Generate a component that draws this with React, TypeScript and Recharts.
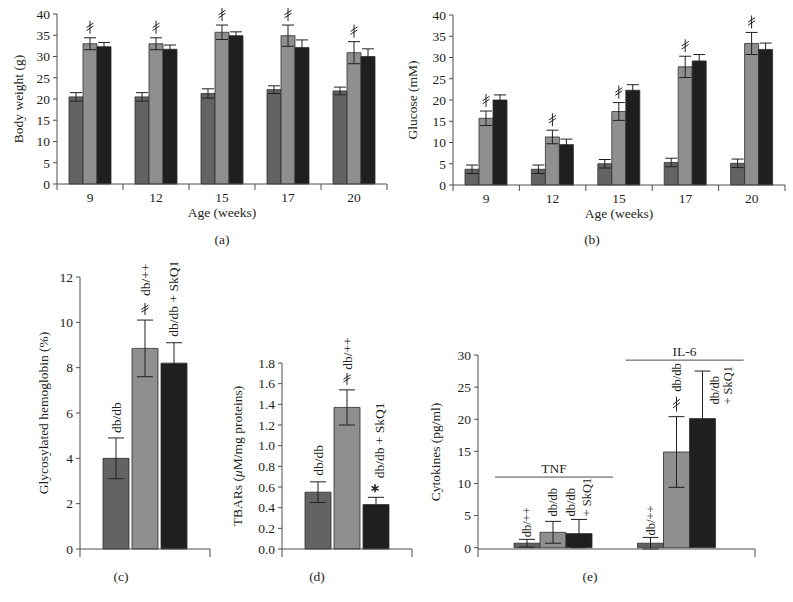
import React from 'react';
import { BarChart, Bar, XAxis, YAxis, ErrorBar, LabelList } from 'recharts';

// ---- data ----
const ages = ['9', '12', '15', '17', '20'];
const weightTicks = [0, 5, 10, 15, 20, 25, 30, 35, 40];
const glucoseTicks = [0, 5, 10, 15, 20, 25, 30, 35, 40];
const hbTicks = [0, 2, 4, 6, 8, 10, 12];
const tbarsTicks = [0, 0.2, 0.4, 0.6, 0.8, 1.0, 1.2, 1.4, 1.6, 1.8];
const cytoTicks = [0, 5, 10, 15, 20, 25, 30];

const weightDark = [20.5, 20.5, 21.3, 22.2, 21.9];
const weightDarkErr = [1.0, 1.0, 1.1, 0.9, 0.9];
const weightGray = [33.0, 33.0, 35.7, 34.9, 30.9];
const weightGrayErr = [1.4, 1.4, 1.7, 2.5, 2.6];
const weightBlack = [32.3, 31.7, 34.9, 32.1, 30.0];
const weightBlackErr = [1.0, 1.0, 0.9, 1.8, 1.8];
const weightMarked = [true, true, true, true, true];

const glucoseDark = [3.7, 3.7, 5.0, 5.3, 5.1];
const glucoseDarkErr = [1.0, 1.0, 1.0, 1.0, 1.0];
const glucoseGray = [15.7, 11.3, 17.3, 27.8, 33.3];
const glucoseGrayErr = [1.7, 1.6, 2.1, 2.5, 2.6];
const glucoseBlack = [20.0, 9.5, 22.3, 29.2, 31.9];
const glucoseBlackErr = [1.2, 1.3, 1.3, 1.5, 1.5];
const glucoseMarked = [true, true, true, true, true];

const hbValues = [4.0, 8.85, 8.2];
const hbErr = [0.9, 1.25, 0.9];
const hbLabels = ['db/db', 'db/++', 'db/db + SkQ1'];

const tbarsValues = [0.55, 1.37, 0.43];
const tbarsErr = [0.1, 0.17, 0.07];
const tbarsLabels = ['db/db', 'db/++', 'db/db + SkQ1'];

const cytokines = ['TNF', 'IL-6'];
const cytoDark = [0.7, 0.7];
const cytoDarkErr = [0.6, 0.9];
const cytoGray = [2.4, 14.9];
const cytoGrayErr = [1.7, 5.5];
const cytoBlack = [2.2, 20.1];
const cytoBlackErr = [2.2, 7.4];
const cytoGrayMarked = [false, true];

const weightRows = ages.map((age, i) => ({
  age,
  dark: weightDark[i], darkErr: weightDarkErr[i],
  gray: weightGray[i], grayErr: weightGrayErr[i],
  black: weightBlack[i], blackErr: weightBlackErr[i],
}));
const glucoseRows = ages.map((age, i) => ({
  age,
  dark: glucoseDark[i], darkErr: glucoseDarkErr[i],
  gray: glucoseGray[i], grayErr: glucoseGrayErr[i],
  black: glucoseBlack[i], blackErr: glucoseBlackErr[i],
}));
const hbRows = [{
  name: 'HbA1c',
  dark: hbValues[0], darkErr: hbErr[0],
  gray: hbValues[1], grayErr: hbErr[1],
  black: hbValues[2], blackErr: hbErr[2],
}];
const tbarsRows = [{
  name: 'TBARs',
  dark: tbarsValues[0], darkErr: tbarsErr[0],
  gray: tbarsValues[1], grayErr: tbarsErr[1],
  black: tbarsValues[2], blackErr: tbarsErr[2],
}];
const cytoRows = cytokines.map((name, i) => ({
  name,
  dark: cytoDark[i], darkErr: cytoDarkErr[i],
  gray: cytoGray[i], grayErr: cytoGrayErr[i],
  black: cytoBlack[i], blackErr: cytoBlackErr[i],
}));

// ---- style ----
const FONT = "'Liberation Serif', 'DejaVu Serif', serif";
const INK = '#231f20';
const AXIS = '#4d4d4d';
const DARK = '#636363';
const GRAY = '#8f8f8f';
const BLACK = '#1f1f1f';
const OUTLINE = '#2e2e2e';
const tickStyle = { fontSize: 13.5, fill: INK, fontFamily: FONT };

// bar geometry from a LabelList entry
function geom(p: any, errs: number[]) {
  const vb = p.viewBox && typeof p.viewBox.width === 'number' ? p.viewBox : p;
  const x = Number(vb.x), y = Number(vb.y), w = Number(vb.width), h = Number(vb.height);
  const i = p.index ?? 0;
  const scale = h / Number(p.value);
  return { i, cx: x + w / 2, top: y, base: y + h, errTop: y - errs[i] * scale, scale };
}

function VText({ x, y, node, size = 13.5 }: any) {
  return (
    <text transform={`translate(${x},${y}) rotate(-90)`} dy="0.35em" fontFamily={FONT} fontSize={size} fill={INK}>
      {node}
    </text>
  );
}

function hashMark(cx: number, bottom: number, len = 13) {
  return (
    <g stroke={INK} strokeWidth={1} fill="none">
      <line x1={cx} y1={bottom} x2={cx} y2={bottom - len} />
      <line x1={cx - 3.5} y1={bottom - len * 0.25} x2={cx + 3.5} y2={bottom - len * 0.6} />
      <line x1={cx - 3.5} y1={bottom - len * 0.48} x2={cx + 3.5} y2={bottom - len * 0.83} />
    </g>
  );
}

function star(cx: number, cy: number) {
  return (
    <g stroke={INK} strokeWidth={1.6}>
      <line x1={cx} y1={cy - 4} x2={cx} y2={cy + 4} />
      <line x1={cx - 3.5} y1={cy - 2} x2={cx + 3.5} y2={cy + 2} />
      <line x1={cx - 3.5} y1={cy + 2} x2={cx + 3.5} y2={cy - 2} />
    </g>
  );
}

function Title({ tx, ty, node, vertical }: any) {
  if (vertical) {
    return (
      <text transform={`translate(${tx},${ty}) rotate(-90)`} textAnchor="middle" dy="0.35em"
        fontFamily={FONT} fontSize={13.5} fill={INK}>{node}</text>
    );
  }
  return <text x={tx} y={ty} textAnchor="middle" fontFamily={FONT} fontSize={13.5} fill={INK}>{node}</text>;
}

function AgeTick(props: any) {
  const { x, payload, index, band, axisY, count } = props;
  return (
    <g>
      <line x1={x - band / 2} y1={axisY} x2={x - band / 2} y2={axisY + 6} stroke={AXIS} />
      {index === count - 1 && <line x1={x + band / 2} y1={axisY} x2={x + band / 2} y2={axisY + 6} stroke={AXIS} />}
      <text x={x} y={axisY + 18} textAnchor="middle" fontFamily={FONT} fontSize={13.5} fill={INK}>{payload.value}</text>
    </g>
  );
}

function EndTicks(props: any) {
  const { index, x0, x1, axisY } = props;
  if (index !== 0) return <g />;
  return (
    <g stroke={AXIS}>
      <line x1={x0} y1={axisY} x2={x0} y2={axisY + 8} />
      <line x1={x1} y1={axisY} x2={x1} y2={axisY + 8} />
    </g>
  );
}

function Caption({ x, y, text }: any) {
  return (
    <div style={{ position: 'absolute', left: x, top: y, transform: 'translate(-50%, -50%)', fontFamily: FONT, fontSize: 13.5, color: INK, whiteSpace: 'nowrap' }}>
      {text}
    </div>
  );
}

function tripleBars(barSize: number, labels?: { dark?: any; gray?: any; black?: any }) {
  const cap = barSize > 20 ? 8 : 6;
  return [
    <Bar key="d" dataKey="dark" barSize={barSize} fill={DARK} stroke={OUTLINE} strokeWidth={0.8} isAnimationActive={false}>
      <ErrorBar dataKey="darkErr" width={cap} stroke={INK} strokeWidth={1} />
      {labels?.dark && <LabelList dataKey="dark" content={labels.dark} />}
    </Bar>,
    <Bar key="g" dataKey="gray" barSize={barSize} fill={GRAY} stroke={OUTLINE} strokeWidth={0.8} isAnimationActive={false}>
      <ErrorBar dataKey="grayErr" width={cap} stroke={INK} strokeWidth={1} />
      {labels?.gray && <LabelList dataKey="gray" content={labels.gray} />}
    </Bar>,
    <Bar key="b" dataKey="black" barSize={barSize} fill={BLACK} stroke={OUTLINE} strokeWidth={0.8} isAnimationActive={false}>
      <ErrorBar dataKey="blackErr" width={cap} stroke={INK} strokeWidth={1} />
      {labels?.black && <LabelList dataKey="black" content={labels.black} />}
    </Bar>,
  ];
}

function PanelWeight() {
  const markLabel = (p: any) => {
    const g = geom(p, weightGrayErr);
    return weightMarked[g.i] ? hashMark(g.cx, g.errTop - 4) : null;
  };
  return (
    <BarChart width={400} height={224} data={weightRows} margin={{ top: 14, right: 13, bottom: 0, left: 0 }} barGap={0}>
      <XAxis dataKey="age" interval={0} height={40} axisLine={{ stroke: AXIS }} tickLine={false}
        tick={<AgeTick band={66} axisY={184} count={ages.length} />}
        label={<Title tx={222} ty={217} node="Age (weeks)" />} />
      <YAxis type="number" domain={[0, 40]} ticks={weightTicks} interval={0} width={57} tickSize={4} tickMargin={3}
        axisLine={{ stroke: AXIS }} tickLine={{ stroke: AXIS }} tick={tickStyle}
        label={<Title tx={18} ty={99} node="Body weight (g)" vertical />} />
      {tripleBars(14, { gray: markLabel })}
    </BarChart>
  );
}

function PanelGlucose() {
  const markLabel = (p: any) => {
    const g = geom(p, glucoseGrayErr);
    return glucoseMarked[g.i] ? hashMark(g.cx, g.errTop - 4) : null;
  };
  return (
    <BarChart width={393} height={225} data={glucoseRows} margin={{ top: 15, right: 8, bottom: 0, left: 0 }} barGap={0}>
      <XAxis dataKey="age" interval={0} height={40} axisLine={{ stroke: AXIS }} tickLine={false}
        tick={<AgeTick band={66.4} axisY={185} count={ages.length} />}
        label={<Title tx={219} ty={218} node="Age (weeks)" />} />
      <YAxis type="number" domain={[0, 40]} ticks={glucoseTicks} interval={0} width={53} tickSize={4} tickMargin={3}
        axisLine={{ stroke: AXIS }} tickLine={{ stroke: AXIS }} tick={tickStyle}
        label={<Title tx={12} ty={100} node="Glucose (mM)" vertical />} />
      {tripleBars(14, { gray: markLabel })}
    </BarChart>
  );
}

function PanelHb() {
  const dark = (p: any) => {
    const g = geom(p, hbErr);
    return <VText x={g.cx} y={g.errTop - 5} node={hbLabels[0]} />;
  };
  const gray = (p: any) => {
    const g = geom(p, hbErr.slice(1));
    return <g>{hashMark(g.cx, g.errTop - 5, 12)}<VText x={g.cx} y={g.errTop - 24} node={hbLabels[1]} /></g>;
  };
  const black = (p: any) => {
    const g = geom(p, hbErr.slice(2));
    return <VText x={g.cx - 1} y={g.errTop - 6} node={hbLabels[2]} />;
  };
  return (
    <BarChart width={230} height={330} data={hbRows} margin={{ top: 37, right: 20, bottom: 0, left: 0 }} barGap={3}>
      <XAxis dataKey="name" height={21} axisLine={{ stroke: AXIS }} tickLine={false}
        tick={<EndTicks x0={80} x1={210} axisY={309} />} />
      <YAxis type="number" domain={[0, 12]} ticks={hbTicks} interval={0} width={80} tickSize={4} tickMargin={3}
        axisLine={{ stroke: AXIS }} tickLine={{ stroke: AXIS }} tick={tickStyle}
        label={<Title tx={43} ty={173} node="Glycosylated hemoglobin (%)" vertical />} />
      {tripleBars(26, { dark, gray, black })}
    </BarChart>
  );
}

function PanelTbars() {
  const dark = (p: any) => {
    const g = geom(p, tbarsErr);
    return <VText x={g.cx} y={g.errTop - 6} node={tbarsLabels[0]} />;
  };
  const gray = (p: any) => {
    const g = geom(p, tbarsErr.slice(1));
    return <g>{hashMark(g.cx, g.errTop - 5, 12)}<VText x={g.cx} y={g.errTop - 20} node={tbarsLabels[1]} /></g>;
  };
  const black = (p: any) => {
    const g = geom(p, tbarsErr.slice(2));
    return <g>{star(g.cx - 1, g.errTop - 9)}<VText x={g.cx + 3} y={g.errTop - 19} node={tbarsLabels[2]} /></g>;
  };
  return (
    <BarChart width={200} height={330} data={tbarsRows} margin={{ top: 123, right: 18, bottom: 0, left: 0 }} barGap={3}>
      <XAxis dataKey="name" height={21} axisLine={{ stroke: AXIS }} tickLine={false}
        tick={<EndTicks x0={52} x1={182} axisY={309} />} />
      <YAxis type="number" domain={[0, 1.8]} ticks={tbarsTicks} interval={0} width={52} tickSize={4} tickMargin={3}
        tickFormatter={(v: number) => v.toFixed(1)}
        axisLine={{ stroke: AXIS }} tickLine={{ stroke: AXIS }} tick={tickStyle}
        label={<Title tx={7} ty={216} node={<>TBARs (<tspan fontStyle="italic">μ</tspan>M/mg proteins)</>} vertical />} />
      {tripleBars(26, { dark, gray, black })}
    </BarChart>
  );
}

function PanelCyto() {
  const bracketLevel = [11, 29.2];
  const bracketShift = [1, 8];
  const fs = 12.5;
  const dark = (p: any) => {
    const g = geom(p, cytoDarkErr);
    return <VText x={g.cx} y={g.errTop - 2} node="db/++" size={fs} />;
  };
  const gray = (p: any) => {
    const g = geom(p, cytoGrayErr);
    const by = g.base - bracketLevel[g.i] * g.scale;
    const bx = g.cx + bracketShift[g.i];
    return (
      <g>
        <line x1={bx - 59} y1={by} x2={bx + 59} y2={by} stroke={AXIS} strokeWidth={1} />
        <text x={bx} y={by - 4} textAnchor="middle" fontFamily={FONT} fontSize={13.5} fill={INK}>{cytokines[g.i]}</text>
        {cytoGrayMarked[g.i]
          ? <g>{hashMark(g.cx, g.errTop - 5, 15)}<VText x={g.cx} y={g.errTop - 25} node="db/db" size={fs} /></g>
          : <VText x={g.cx} y={g.errTop - 5} node="db/db" size={fs} />}
      </g>
    );
  };
  const black = (p: any) => {
    const g = geom(p, cytoBlackErr);
    // second group: the label sits beside the long error bar
    const side = g.errTop < g.top - 30;
    const lx = side ? g.cx + 12 : g.cx - 8;
    const ly = side ? g.top - 14 : g.errTop - 3;
    return (
      <g>
        <VText x={lx} y={ly} node="db/db" size={fs} />
        <VText x={lx + (side ? 13 : 16)} y={ly} node="+ SkQ1" size={fs} />
      </g>
    );
  };
  return (
    <BarChart width={355} height={330} data={cytoRows} margin={{ top: 115, right: 20, bottom: 0, left: 0 }} barGap={0}>
      <XAxis dataKey="name" height={21} interval={0} padding={{ left: 13, right: 17 }} axisLine={{ stroke: AXIS }} tickLine={false}
        tick={<EndTicks x0={58} x1={335} axisY={309} />} />
      <YAxis type="number" domain={[0, 30]} ticks={cytoTicks} interval={0} width={58} tickSize={4} tickMargin={3}
        axisLine={{ stroke: AXIS }} tickLine={{ stroke: AXIS }} tick={tickStyle}
        label={<Title tx={15} ty={212} node="Cytokines (pg/ml)" vertical />} />
      {tripleBars(26, { dark, gray, black })}
    </BarChart>
  );
}

export default function App() {
  return (
    <div style={{ position: 'absolute', left: 0, top: 0, width: 793, height: 602, background: '#fff', overflow: 'hidden' }}>
      <div style={{ position: 'absolute', left: 0, top: 0 }}><PanelWeight /></div>
      <div style={{ position: 'absolute', left: 400, top: 0 }}><PanelGlucose /></div>
      <div style={{ position: 'absolute', left: 0, top: 240 }}><PanelHb /></div>
      <div style={{ position: 'absolute', left: 230, top: 240 }}><PanelTbars /></div>
      <div style={{ position: 'absolute', left: 420, top: 240 }}><PanelCyto /></div>
      <Caption x={222} y={240} text="(a)" />
      <Caption x={592} y={240} text="(b)" />
      <Caption x={121} y={577} text="(c)" />
      <Caption x={317} y={577} text="(d)" />
      <Caption x={590} y={577} text="(e)" />
    </div>
  );
}
